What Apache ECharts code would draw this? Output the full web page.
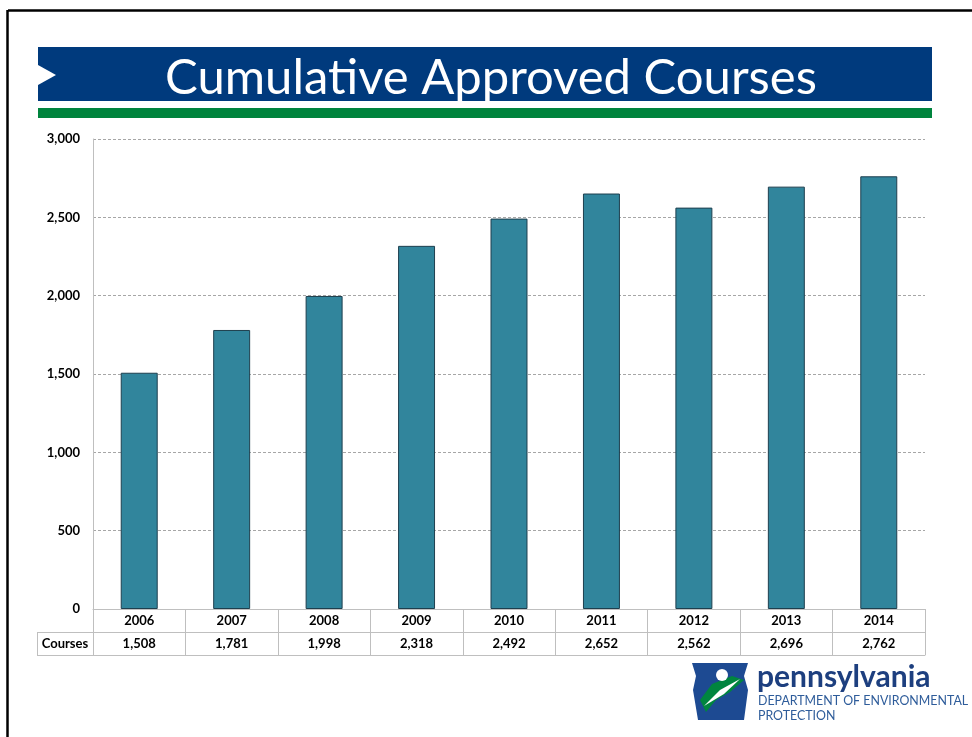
<!DOCTYPE html>
<html><head><meta charset="utf-8">
<script src="https://cdn.jsdelivr.net/npm/echarts@6/dist/echarts.min.js"></script>
<style>html,body{margin:0;padding:0;background:#fff}#c{width:972px;height:737px}</style>
</head><body><div id="c"></div>
<script>
const years = ['2006','2007','2008','2009','2010','2011','2012','2013','2014'];
const courses = [1508,1781,1998,2318,2492,2652,2562,2696,2762];
const yTicks = {min:0, max:3000, interval:500};
const titleText = 'Cumulative Approved Courses';
const rowLabel = 'Courses';

const fmt = v => Number(v).toLocaleString('en-US');
const F = 'Lato, "Open Sans", sans-serif';
const chart = echarts.init(document.getElementById('c'), null, {renderer:'canvas'});
const gridC = '#BFBFBF';
chart.setOption({
  animation:false,
  backgroundColor:'#fff',
  grid:{left:93,right:47,top:139,bottom:128},
  xAxis:[
    {type:'category',data:years,position:'bottom',
     axisLine:{show:true,lineStyle:{color:gridC,width:1}},
     axisTick:{show:true,length:46,lineStyle:{color:gridC}},
     axisLabel:{fontFamily:F,fontWeight:'bold',fontSize:13,color:'#000',margin:5}},
    {type:'category',data:courses.map(fmt),position:'bottom',offset:23,
     axisLine:{show:true,lineStyle:{color:gridC}},axisTick:{show:false},
     axisLabel:{fontFamily:F,fontWeight:'bold',fontSize:13,color:'#000',margin:5}},
    {type:'category',data:years,position:'bottom',offset:46,
     axisLine:{show:true,lineStyle:{color:gridC}},axisTick:{show:false},axisLabel:{show:false}}
  ],
  yAxis:{type:'value',min:yTicks.min,max:yTicks.max,interval:yTicks.interval,
    axisLine:{show:true,lineStyle:{color:gridC}},axisTick:{show:false},
    splitLine:{lineStyle:{color:'#A6A6A6',type:[3,2],width:1}},
    axisLabel:{formatter:v=>fmt(v),fontFamily:F,fontWeight:'bold',fontSize:13,color:'#000',margin:13}},
  series:[{type:'bar',data:courses,xAxisIndex:0,barWidth:'40%',
    itemStyle:{color:'#31859C',borderColor:'#1E3F4E',borderWidth:1}}],
  graphic:[
    {type:'line',shape:{x1:8,y1:10.5,x2:972,y2:10.5},style:{stroke:'#000',lineWidth:2.5}},
    {type:'line',shape:{x1:7.5,y1:10,x2:7.5,y2:737},style:{stroke:'#000',lineWidth:2.5}},
    {type:'rect',shape:{x:38,y:47,width:894,height:54},style:{fill:'#003A7D'}},
    {type:'polygon',shape:{points:[[38,65],[56,75],[38,85]]},style:{fill:'#fff'}},
    {type:'rect',shape:{x:38,y:108,width:894,height:10},style:{fill:'#00843D'}},
    {type:'text',style:{text:titleText,x:491,y:78,align:'center',verticalAlign:'middle',fill:'#fff',font:'49px '+F}},
    {type:'line',shape:{x1:37.5,y1:632,x2:37.5,y2:655},style:{stroke:gridC}},
    {type:'line',shape:{x1:37,y1:632.5,x2:93,y2:632.5},style:{stroke:gridC}},
    {type:'line',shape:{x1:37,y1:655.5,x2:93,y2:655.5},style:{stroke:gridC}},
    {type:'text',style:{text:rowLabel,x:65,y:644,align:'center',verticalAlign:'middle',fill:'#000',font:'bold 13px '+F}},
    {type:'polygon',shape:{points:[[692,663],[748,663],[744,676],[748,690],[744,720],[698,720],[693,690],[696,676]]},style:{fill:'#1D4A92'}},
    {type:'polygon',shape:{points:[[700,700],[712,684],[732,676],[744,680],[730,692],[716,700],[706,712]]},style:{fill:'#00853F'}},
    {type:'polygon',shape:{points:[[704,706],[720,690],[740,679],[724,694]]},style:{fill:'#fff'}},
    {type:'circle',shape:{cx:722,cy:675,r:6},style:{fill:'#fff'}},
    {type:'text',style:{text:'pennsylvania',x:757,y:677,verticalAlign:'middle',fill:'#1D3F7F',font:'bold 30px '+F}},
    {type:'text',style:{text:'DEPARTMENT OF ENVIRONMENTAL',x:758,y:701,verticalAlign:'middle',fill:'#2E5C9A',font:'12.4px '+F}},
    {type:'text',style:{text:'PROTECTION',x:758,y:716,verticalAlign:'middle',fill:'#2E5C9A',font:'12.4px '+F}}
  ]
});
</script></body></html>
